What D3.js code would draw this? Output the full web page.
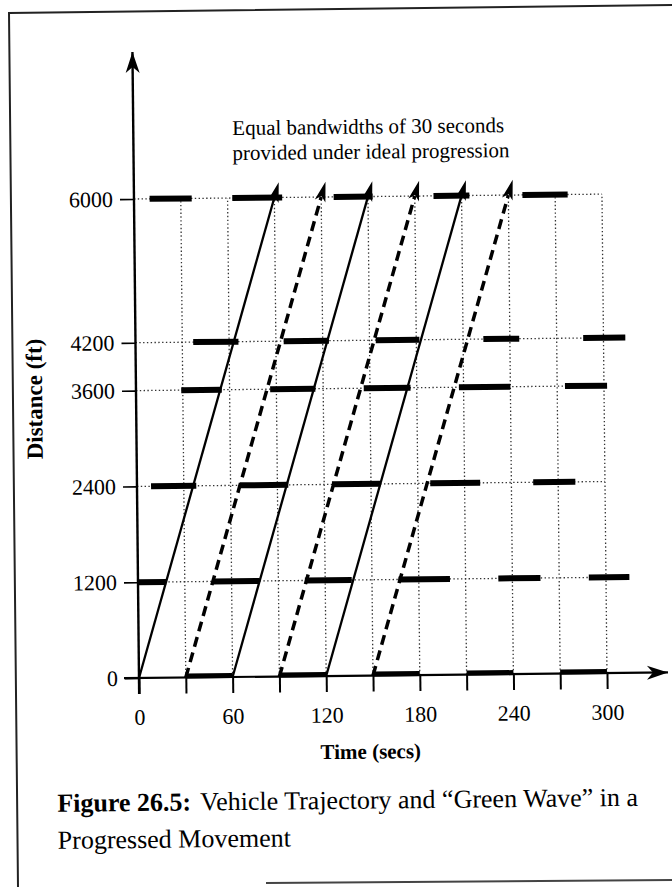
<!DOCTYPE html>
<html>
<head>
<meta charset="utf-8">
<script src="https://cdn.jsdelivr.net/npm/d3@7"></script>
<style>
  body { margin: 0; background: #fff; }
  svg { display: block; background: #fff; }
  text { font-family: "Liberation Serif", "Times New Roman", serif; fill: #000; }
</style>
</head>
<body>
<svg id="chart" width="672" height="887"></svg>
<script>
// ---------- data ----------
const timeTicks = [0, 30, 60, 90, 120, 150, 180, 210, 240, 270, 300];
const timeLabels = [0, 60, 120, 180, 240, 300];
const distanceTicks = [0, 1200, 2400, 3600, 4200, 6000];

// green bands (start sec, end sec) at each signal location
const bands0    = [[30, 60], [90, 120], [150, 180], [210, 240], [270, 300]];
const bands1200 = [[0, 18], [48, 78], [107, 137], [167, 200], [231, 258], [289, 315]];
const bands2400 = [[9, 38], [66, 97], [125, 156], [188, 220], [254, 281]];
const bands3600 = [[29, 55], [86, 115], [146, 176], [207, 240], [275, 302]];
const bands4200 = [[37, 66], [95, 124], [154, 182], [223, 246], [287, 314]];
const bands6000 = [[10, 37], [63, 95], [128, 153], [192, 215], [249, 278]];

// vehicle trajectories: [time sec, distance ft]
const solidTrajectories = [
  [[0, 0], [90, 6000]],
  [[60, 0], [150, 6000]],
  [[120, 0], [210, 6000]]
];
const dashedTrajectories = [
  [[30, 0], [120, 6000]],
  [[90, 0], [180, 6000]],
  [[150, 0], [240, 6000]]
];

const noteLines = ["Equal bandwidths of 30 seconds", "provided under ideal progression"];
const xTitle = "Time (secs)";
const yTitle = "Distance (ft)";
const captionBold = "Figure 26.5:";
const captionRest = "Vehicle Trajectory and \u201CGreen Wave\u201D in a";
const captionLine2 = "Progressed Movement";

// ---------- build ----------
const bandRows = [
  {d: 0, bands: bands0}, {d: 1200, bands: bands1200}, {d: 2400, bands: bands2400},
  {d: 3600, bands: bands3600}, {d: 4200, bands: bands4200}, {d: 6000, bands: bands6000}
];

const svg = d3.select("#chart");

// page border (scanned frame)
svg.append("path")
  .attr("d", "M18,887 L9,13 L672,5")
  .attr("fill", "none").attr("stroke", "#222").attr("stroke-width", 2);
svg.append("path")
  .attr("d", "M266,883 L672,880")
  .attr("fill", "none").attr("stroke", "#444").attr("stroke-width", 2);

const g = svg.append("g").attr("transform", "rotate(-0.6,139,678)");

const x = d3.scaleLinear().domain([0, 300]).range([139, 607]);
const y = d3.scaleLinear().domain([0, 6000]).range([678, 199]);

const defs = svg.append("defs");
defs.append("marker")
  .attr("id", "trajArrow").attr("markerUnits", "userSpaceOnUse")
  .attr("viewBox", "-5 -7 23 14").attr("markerWidth", 23).attr("markerHeight", 14)
  .attr("refX", 0).attr("refY", 0).attr("orient", "auto")
  .append("path").attr("d", "M-4,-5.5 L16,0 L-4,5.5 L1,0 Z").attr("fill", "#000");
defs.append("marker")
  .attr("id", "axisArrow").attr("markerUnits", "userSpaceOnUse")
  .attr("viewBox", "-22 -9 24 18").attr("markerWidth", 24).attr("markerHeight", 18)
  .attr("refX", 0).attr("refY", 0).attr("orient", "auto")
  .append("path").attr("d", "M0,0 L-21,-7 L-15,0 L-21,7 Z").attr("fill", "#000");

// dotted grid
g.append("g").selectAll("line").data(timeTicks.filter(t => t > 0)).join("line")
  .attr("x1", d => x(d)).attr("x2", d => x(d))
  .attr("y1", y(0)).attr("y2", y(6000))
  .attr("stroke", "#333").attr("stroke-width", 1.3).attr("stroke-dasharray", "1.4,2.4");
g.append("g").selectAll("line").data(distanceTicks.filter(d => d > 0)).join("line")
  .attr("x1", x(0)).attr("x2", x(300))
  .attr("y1", d => y(d)).attr("y2", d => y(d))
  .attr("stroke", "#333").attr("stroke-width", 1.3).attr("stroke-dasharray", "1.4,2.4");

// green band bars
bandRows.forEach(row => {
  g.append("g").selectAll("line").data(row.bands).join("line")
    .attr("x1", d => x(d[0])).attr("x2", d => x(d[1]))
    .attr("y1", y(row.d) - (row.d === 0 ? 1.5 : 0)).attr("y2", y(row.d) - (row.d === 0 ? 1.5 : 0))
    .attr("stroke", "#000").attr("stroke-width", row.d === 0 ? 5 : 6);
});

// trajectories
const line = d3.line().x(d => x(d[0])).y(d => y(d[1]));
g.append("g").selectAll("path").data(solidTrajectories).join("path")
  .attr("d", line).attr("fill", "none").attr("stroke", "#000").attr("stroke-width", 2.3)
  .attr("marker-end", "url(#trajArrow)");
g.append("g").selectAll("path").data(dashedTrajectories).join("path")
  .attr("d", line).attr("fill", "none").attr("stroke", "#000").attr("stroke-width", 3.5)
  .attr("stroke-dasharray", "10,6")
  .attr("marker-end", "url(#trajArrow)");

// axes
const xAxis = d3.axisBottom(x).tickValues(timeTicks).tickSize(16).tickSizeOuter(0).tickPadding(15)
  .tickFormat(d => timeLabels.includes(d) ? d : "");
const gx = g.append("g").attr("transform", `translate(0,${y(0)})`).call(xAxis);
gx.select(".domain").remove();
gx.selectAll(".tick line").attr("stroke", "#000").attr("stroke-width", 2);
gx.selectAll(".tick text").attr("font-size", 22).attr("fill", "#000")
  .style("font-family", '"Liberation Serif", serif');

const yAxis = d3.axisLeft(y).tickValues(distanceTicks).tickSize(14).tickSizeOuter(0).tickPadding(7)
  .tickFormat(d3.format("d"));
const gy = g.append("g").attr("transform", `translate(${x(0)},0)`).call(yAxis);
gy.select(".domain").remove();
gy.selectAll(".tick line").attr("stroke", "#000").attr("stroke-width", 1.6);
gy.selectAll(".tick text").attr("font-size", 22).attr("fill", "#000")
  .style("font-family", '"Liberation Serif", serif');

// axis lines with arrows
g.append("line").attr("x1", x(0) - 15).attr("x2", 668).attr("y1", y(0)).attr("y2", y(0))
  .attr("stroke", "#000").attr("stroke-width", 2.2).attr("marker-end", "url(#axisArrow)");
g.append("line").attr("x1", x(0)).attr("x2", x(0)).attr("y1", y(0) + 16).attr("y2", 52)
  .attr("stroke", "#000").attr("stroke-width", 2.4).attr("marker-end", "url(#axisArrow)");

// titles
g.append("text").attr("x", 370).attr("y", 761).attr("text-anchor", "middle")
  .attr("font-size", 21).attr("font-weight", "bold").text(xTitle);
g.append("text").attr("transform", "translate(45,398) rotate(-90)").attr("text-anchor", "middle")
  .attr("font-size", 23).attr("font-weight", "bold").text(yTitle);

// annotation
g.append("g").selectAll("text").data(noteLines).join("text")
  .attr("x", 238).attr("y", (d, i) => 136 + i * 25)
  .attr("font-size", 21).text(d => d);

// caption
const cap = g.append("text").attr("x", 56).attr("y", 811).attr("font-size", 26);
cap.append("tspan").attr("font-weight", "bold").text(captionBold);
cap.append("tspan").attr("dx", 9).text(captionRest);
g.append("text").attr("x", 56).attr("y", 848).attr("font-size", 26).text(captionLine2);
</script>
</body>
</html>
